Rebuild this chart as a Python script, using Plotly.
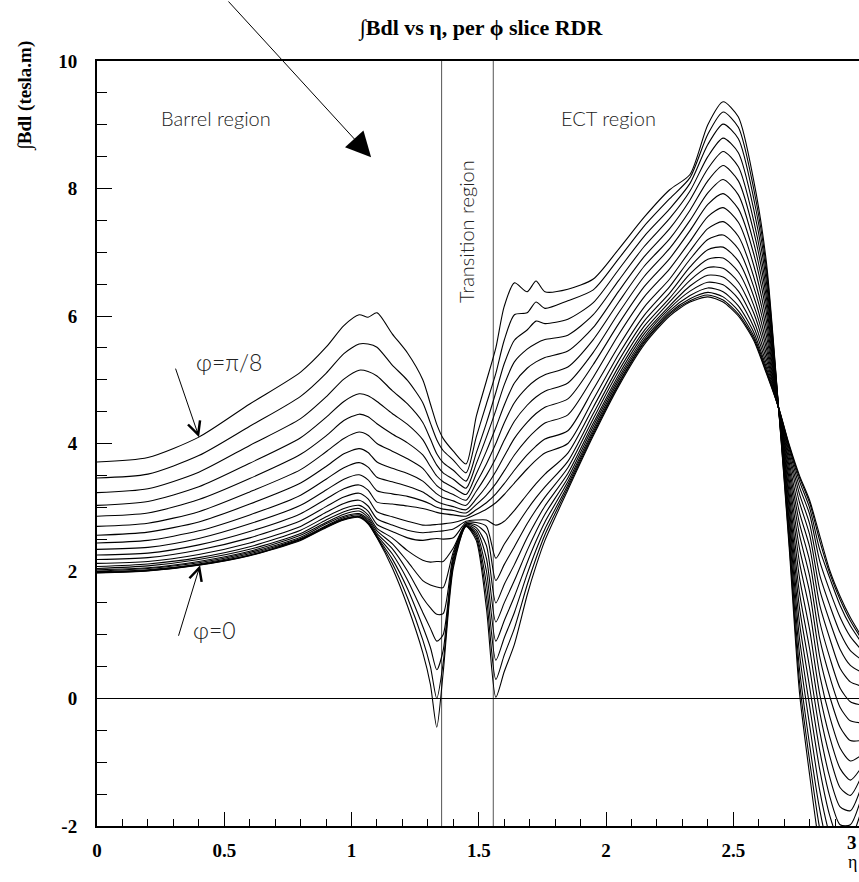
import plotly.graph_objects as go

# ---------------- data ----------------
eta = [0.0, 0.2, 0.4, 0.6, 0.8, 0.9, 0.97, 1.03, 1.065, 1.1,
       1.16, 1.22, 1.28, 1.31, 1.335, 1.36, 1.4, 1.45,
       1.49, 1.53, 1.567, 1.6, 1.64,
       1.69, 1.725, 1.76, 1.85,
       1.95, 2.05, 2.15, 2.25, 2.33, 2.4, 2.46, 2.52, 2.58, 2.63,
       2.68, 2.72, 2.76, 2.8, 2.84, 2.88, 2.92, 2.96, 3.0]

# one list per phi slice, from phi = 0 (slice 00) to phi = pi/8 (slice 19)
bdl_slice_00 = [1.97, 2.00, 2.09, 2.24, 2.48, 2.68, 2.80, 2.84, 2.74, 2.52,
                2.05, 1.45, 0.72, 0.22, -0.45, 0.40, 2.05, 2.70,
                2.48, 1.42, 0.02, 0.42, 0.85,
                1.62, 2.08, 2.48, 3.27,
                4.12, 4.90, 5.55, 6.00, 6.22, 6.30, 6.22, 6.00, 5.62, 5.10,
                4.54, 3.98, 3.50, 3.11, 2.55, 2.00, 1.60, 1.27, 1.00]
bdl_slice_01 = [1.975, 2.005, 2.095, 2.245, 2.49, 2.69, 2.81, 2.85, 2.75, 2.53,
                2.12, 1.58, 0.92, 0.50, 0.00, 0.55, 2.10, 2.70,
                2.52, 1.60, 0.30, 0.68, 1.10,
                1.78, 2.20, 2.57, 3.31,
                4.15, 4.93, 5.58, 6.03, 6.24, 6.33, 6.25, 6.03, 5.65, 5.12,
                4.54, 3.96, 3.47, 3.07, 2.47, 1.95, 1.55, 1.22, 0.96]
bdl_slice_02 = [1.98, 2.01, 2.10, 2.25, 2.50, 2.70, 2.82, 2.86, 2.76, 2.54,
                2.19, 1.72, 1.13, 0.80, 0.45, 0.75, 2.15, 2.71,
                2.56, 1.80, 0.60, 0.95, 1.35,
                1.95, 2.33, 2.66, 3.35,
                4.18, 4.95, 5.60, 6.05, 6.27, 6.37, 6.30, 6.08, 5.69, 5.15,
                4.53, 3.94, 3.41, 2.99, 2.33, 1.88, 1.46, 1.14, 0.90]
bdl_slice_03 = [1.99, 2.02, 2.11, 2.27, 2.51, 2.71, 2.84, 2.88, 2.78, 2.56,
                2.27, 1.86, 1.35, 1.10, 0.90, 1.00, 2.20, 2.71,
                2.60, 2.00, 0.90, 1.22, 1.60,
                2.13, 2.47, 2.77, 3.40,
                4.22, 4.99, 5.63, 6.08, 6.32, 6.44, 6.38, 6.16, 5.75, 5.19,
                4.53, 3.90, 3.32, 2.89, 2.15, 1.68, 1.27, 0.97, 0.78]
bdl_slice_04 = [2.00, 2.04, 2.13, 2.29, 2.53, 2.74, 2.86, 2.90, 2.81, 2.59,
                2.35, 2.00, 1.58, 1.42, 1.32, 1.33, 2.25, 2.72,
                2.64, 2.20, 1.20, 1.50, 1.85,
                2.32, 2.62, 2.89, 3.46,
                4.27, 5.03, 5.67, 6.12, 6.39, 6.53, 6.49, 6.27, 5.83, 5.25,
                4.52, 3.84, 3.21, 2.74, 1.93, 1.45, 1.03, 0.75, 0.62]
bdl_slice_05 = [2.02, 2.05, 2.15, 2.31, 2.56, 2.76, 2.89, 2.94, 2.84, 2.63,
                2.43, 2.15, 1.85, 1.78, 1.75, 1.74, 2.30, 2.73,
                2.68, 2.40, 1.50, 1.79, 2.10,
                2.52, 2.78, 3.02, 3.53,
                4.32, 5.08, 5.72, 6.16, 6.47, 6.64, 6.61, 6.39, 5.93, 5.32,
                4.52, 3.78, 3.08, 2.57, 1.70, 1.20, 0.77, 0.52, 0.42]
bdl_slice_06 = [2.04, 2.08, 2.18, 2.34, 2.59, 2.80, 2.93, 2.98, 2.88, 2.67,
                2.52, 2.32, 2.17, 2.14, 2.15, 2.15, 2.36, 2.74,
                2.72, 2.58, 1.85, 2.10, 2.38,
                2.74, 2.96, 3.16, 3.62,
                4.39, 5.14, 5.77, 6.22, 6.56, 6.76, 6.75, 6.53, 6.05, 5.40,
                4.51, 3.70, 2.92, 2.38, 1.46, 0.93, 0.47, 0.26, 0.20]
bdl_slice_07 = [2.07, 2.11, 2.21, 2.38, 2.64, 2.85, 2.98, 3.03, 2.94, 2.73,
                2.62, 2.52, 2.48, 2.50, 2.51, 2.50, 2.52, 2.76,
                2.76, 2.70, 2.20, 2.42, 2.66,
                2.96, 3.15, 3.32, 3.72,
                4.47, 5.21, 5.84, 6.28, 6.66, 6.89, 6.91, 6.69, 6.17, 5.49,
                4.51, 3.62, 2.75, 2.16, 1.20, 0.63, 0.16, -0.05, -0.10]
bdl_slice_08 = [2.12, 2.15, 2.26, 2.44, 2.70, 2.92, 3.06, 3.11, 3.02, 2.82,
                2.72, 2.64, 2.60, 2.61, 2.62, 2.63, 2.66, 2.78,
                2.80, 2.80, 2.72, 2.78, 2.95,
                3.20, 3.37, 3.52, 3.85,
                4.57, 5.30, 5.92, 6.36, 6.77, 7.04, 7.08, 6.86, 6.31, 5.58,
                4.51, 3.53, 2.57, 1.92, 0.93, 0.33, -0.14, -0.35, -0.38]
bdl_slice_09 = [2.18, 2.21, 2.33, 2.52, 2.79, 3.01, 3.16, 3.22, 3.13, 2.93,
                2.85, 2.78, 2.72, 2.72, 2.73, 2.74, 2.76, 2.82,
                2.89, 2.97, 3.07, 3.20, 3.38,
                3.60, 3.74, 3.85, 4.00,
                4.69, 5.40, 6.01, 6.46, 6.89, 7.20, 7.27, 7.05, 6.46, 5.69,
                4.50, 3.43, 2.36, 1.67, 0.65, 0.02, -0.45, -0.66, -0.66]
bdl_slice_10 = [2.25, 2.28, 2.41, 2.62, 2.90, 3.13, 3.29, 3.35, 3.27, 3.08,
                3.05, 3.02, 2.98, 2.95, 2.92, 2.90, 2.88, 2.86,
                2.96, 3.07, 3.21, 3.37, 3.58,
                3.82, 3.96, 4.07, 4.20,
                4.85, 5.53, 6.14, 6.58, 7.02, 7.37, 7.48, 7.25, 6.62, 5.80,
                4.50, 3.33, 2.14, 1.39, 0.36, -0.30, -0.78, -0.98, -0.90]
bdl_slice_11 = [2.34, 2.37, 2.51, 2.74, 3.03, 3.27, 3.44, 3.51, 3.43, 3.26,
                3.21, 3.17, 3.10, 3.05, 3.00, 2.97, 2.95, 2.91,
                3.04, 3.19, 3.37, 3.57, 3.82,
                4.07, 4.21, 4.32, 4.45,
                5.04, 5.71, 6.30, 6.74, 7.17, 7.56, 7.70, 7.47, 6.80, 5.92,
                4.49, 3.21, 1.90, 1.08, 0.06, -0.62, -1.10, -1.28, -1.10]
bdl_slice_12 = [2.44, 2.48, 2.63, 2.88, 3.19, 3.44, 3.62, 3.70, 3.63, 3.47,
                3.40, 3.33, 3.24, 3.16, 3.09, 3.05, 3.01, 2.96,
                3.13, 3.33, 3.56, 3.80, 4.08,
                4.33, 4.47, 4.57, 4.70,
                5.24, 5.88, 6.46, 6.90, 7.34, 7.75, 7.92, 7.68, 6.98, 6.05,
                4.49, 3.10, 1.66, 0.78, -0.22, -0.92, -1.40, -1.52, -1.25]
bdl_slice_13 = [2.56, 2.61, 2.77, 3.05, 3.38, 3.64, 3.84, 3.92, 3.86, 3.71,
                3.61, 3.53, 3.41, 3.30, 3.21, 3.15, 3.10, 3.03,
                3.25, 3.50, 3.77, 4.05, 4.35,
                4.60, 4.73, 4.82, 4.95,
                5.43, 6.05, 6.62, 7.06, 7.50, 7.93, 8.14, 7.90, 7.15, 6.17,
                4.49, 2.99, 1.43, 0.48, -0.52, -1.25, -1.70, -1.76, -1.42]
bdl_slice_14 = [2.70, 2.75, 2.93, 3.24, 3.59, 3.87, 4.08, 4.18, 4.13, 4.00,
                3.88, 3.76, 3.61, 3.46, 3.34, 3.27, 3.20, 3.11,
                3.38, 3.68, 4.00, 4.32, 4.64,
                4.88, 5.00, 5.08, 5.20,
                5.63, 6.22, 6.78, 7.21, 7.66, 8.12, 8.36, 8.12, 7.33, 6.29,
                4.48, 2.87, 1.19, 0.18, -0.82, -1.55, -1.98, -1.98, -1.60]
bdl_slice_15 = [2.86, 2.91, 3.12, 3.45, 3.83, 4.12, 4.36, 4.46, 4.42, 4.31,
                4.15, 4.01, 3.82, 3.64, 3.49, 3.40, 3.31, 3.20,
                3.52, 3.88, 4.25, 4.60, 4.95,
                5.18, 5.28, 5.35, 5.45,
                5.82, 6.39, 6.93, 7.37, 7.82, 8.31, 8.58, 8.34, 7.50, 6.41,
                4.48, 2.76, 0.95, -0.12, -1.12, -1.85, -2.25, -2.20, -1.80]
bdl_slice_16 = [3.03, 3.09, 3.32, 3.69, 4.09, 4.41, 4.66, 4.78, 4.75, 4.66,
                4.47, 4.30, 4.06, 3.84, 3.66, 3.54, 3.44, 3.30,
                3.68, 4.10, 4.52, 4.92, 5.28,
                5.48, 5.57, 5.63, 5.70,
                6.02, 6.56, 7.09, 7.53, 7.96, 8.50, 8.79, 8.56, 7.68, 6.54,
                4.47, 2.64, 0.71, -0.42, -1.45, -2.15, -2.52, -2.40, -1.95]
bdl_slice_17 = [3.23, 3.29, 3.55, 3.97, 4.39, 4.73, 5.01, 5.15, 5.13, 5.06,
                4.83, 4.62, 4.33, 4.07, 3.84, 3.70, 3.58, 3.41,
                3.85, 4.32, 4.80, 5.25, 5.62,
                5.78, 5.92, 5.88, 5.95,
                6.21, 6.73, 7.25, 7.68, 8.08, 8.69, 9.01, 8.78, 7.85, 6.66,
                4.47, 2.53, 0.47, -0.73, -1.75, -2.45, -2.80, -2.60, -2.10]
bdl_slice_18 = [3.46, 3.52, 3.81, 4.27, 4.74, 5.10, 5.41, 5.56, 5.56, 5.51,
                5.23, 4.99, 4.64, 4.32, 4.06, 3.89, 3.74, 3.54,
                4.10, 4.62, 5.10, 5.62, 6.02,
                6.05, 6.22, 6.12, 6.24,
                6.41, 6.90, 7.41, 7.84, 8.17, 8.85, 9.20, 8.96, 8.00, 6.76,
                4.46, 2.43, 0.27, -0.98, -2.05, -2.75, -3.05, -2.80, -2.25]
bdl_slice_19 = [3.71, 3.78, 4.10, 4.62, 5.12, 5.51, 5.85, 6.02, 5.98, 6.05,
                5.72, 5.42, 5.00, 4.62, 4.30, 4.08, 3.88, 3.68,
                4.42, 4.98, 5.50, 6.15, 6.52,
                6.38, 6.55, 6.38, 6.42,
                6.58, 7.05, 7.55, 7.98, 8.22, 9.00, 9.36, 9.12, 8.13, 6.85,
                4.46, 2.35, 0.10, -1.20, -2.35, -3.05, -3.30, -3.00, -2.40]

phi_slices = [bdl_slice_00, bdl_slice_01, bdl_slice_02, bdl_slice_03, bdl_slice_04,
              bdl_slice_05, bdl_slice_06, bdl_slice_07, bdl_slice_08, bdl_slice_09,
              bdl_slice_10, bdl_slice_11, bdl_slice_12, bdl_slice_13, bdl_slice_14,
              bdl_slice_15, bdl_slice_16, bdl_slice_17, bdl_slice_18, bdl_slice_19]

region_bounds = [1.354, 1.557]          # barrel / transition / end-cap boundaries in eta
x_tick_vals = [0, 0.5, 1, 1.5, 2, 2.5]
x_tick_text = ["0", "0.5", "1", "1.5", "2", "2.5"]
y_tick_vals = [-2, 0, 2, 4, 6, 8, 10]
y_tick_text = ["-2", "0", "2", "4", "6", "8", "10"]

# ---------------- figure ----------------
fig = go.Figure()
for s in phi_slices:
    fig.add_trace(go.Scatter(
        x=eta, y=s, mode="lines",
        line=dict(color="black", width=1.1, shape="spline", smoothing=0.7),
        hoverinfo="skip", showlegend=False))

for b in region_bounds:
    fig.add_shape(type="line", xref="x", yref="paper", x0=b, x1=b, y0=0, y1=1,
                  line=dict(color="#555555", width=1), layer="below")

serif_bold = dict(family="Liberation Serif", size=19, color="black", weight="bold")
label_font = dict(family="Lato", size=20, color="#222222", weight=300)
phi_font = dict(family="Lato", size=23, color="#222222", weight=300)

fig.update_layout(
    width=859, height=882,
    margin=dict(l=97, r=0, t=61, b=56),
    paper_bgcolor="white", plot_bgcolor="white",
    showlegend=False,
    title=dict(text="∫Bdl vs η, per ϕ slice RDR", x=0.504, xref="paper",
               y=1 - 27 / 882, yref="container", xanchor="center", yanchor="middle",
               font=dict(family="Liberation Serif", size=22, color="black", weight="bold")),
)

fig.update_xaxes(
    range=[0, 2.994], showline=True, linecolor="black", linewidth=2, mirror=True,
    ticks="inside", ticklen=14, tickwidth=1, tickcolor="black",
    tickmode="array", tickvals=x_tick_vals, ticktext=x_tick_text,
    tickfont=serif_bold, ticklabelstandoff=6,
    minor=dict(ticks="inside", ticklen=7, dtick=0.1, tick0=0, tickcolor="black", tickwidth=1),
    showgrid=False, zeroline=False)

fig.update_yaxes(
    range=[-2, 10], showline=True, linecolor="black", linewidth=2, mirror=False,
    ticks="inside", ticklen=15, tickwidth=1, tickcolor="black",
    tickmode="array", tickvals=y_tick_vals, ticktext=y_tick_text,
    tickfont=serif_bold, ticklabelstandoff=14,
    minor=dict(ticks="inside", ticklen=10, dtick=0.5, tick0=0, tickcolor="black", tickwidth=1),
    showgrid=False, zeroline=True, zerolinecolor="black", zerolinewidth=1)

annotations = [
    # axis titles and the last tick label (kept inside the page)
    dict(text="∫Bdl (tesla.m)", xref="paper", yref="paper", x=-0.0945, y=0.955,
         textangle=-90, showarrow=False, xanchor="center", yanchor="middle",
         font=dict(family="Liberation Serif", size=19, color="black", weight="bold")),
    dict(text="3", xref="paper", yref="paper", x=1.0, y=-0.022, showarrow=False,
         xanchor="right", yanchor="middle", font=serif_bold),
    dict(text="η", xref="paper", yref="paper", x=1.0, y=-0.047, showarrow=False,
         xanchor="right", yanchor="middle",
         font=dict(family="Liberation Serif", size=18, color="black")),
    # region labels
    dict(text="Barrel region", x=0.468, y=9.11, showarrow=False, font=label_font),
    dict(text="ECT region", x=2.008, y=9.11, showarrow=False, font=label_font),
    dict(text="Transition region", x=1.45, y=7.32, textangle=-90, showarrow=False,
         font=label_font),
    dict(text="φ=π/8", x=0.52, y=5.28, showarrow=False, font=phi_font),
    dict(text="φ=0", x=0.46, y=1.07, showarrow=False, font=phi_font),
    # arrows
    dict(text="", x=0.401, y=4.10, ax=-24, ay=-70, showarrow=True, arrowhead=5,
         arrowsize=2.5, arrowwidth=1, arrowcolor="black"),
    dict(text="", x=0.405, y=2.09, ax=-22, ay=72, showarrow=True, arrowhead=5,
         arrowsize=2.5, arrowwidth=1, arrowcolor="black"),
    dict(text="", x=1.077, y=8.49, ax=-144, ay=-160, showarrow=True, arrowhead=2,
         arrowsize=5, arrowwidth=1, arrowcolor="black"),
]
fig.update_layout(annotations=annotations)

fig.write_html("out.html")
